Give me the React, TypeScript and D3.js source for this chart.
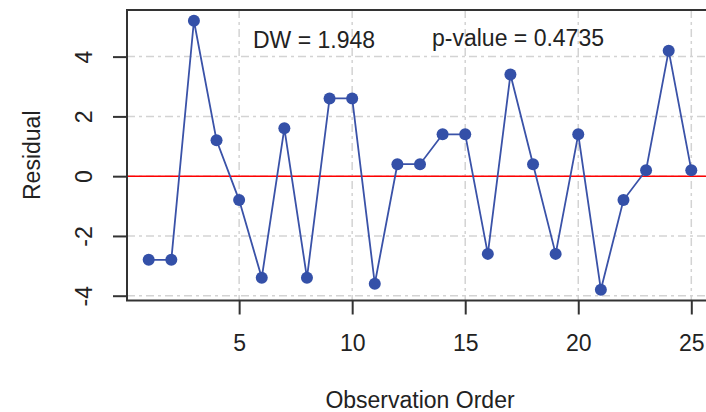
import React, { useEffect, useRef } from 'react';
import * as d3 from 'd3';

// residuals by observation order
const order = d3.range(1, 26);
const residuals = [-2.8, -2.8, 5.2, 1.2, -0.8, -3.4, 1.6, -3.4, 2.6, 2.6, -3.6, 0.4, 0.4, 1.4, 1.4, -2.6, 3.4, 0.4, -2.6, 1.4, -3.8, -0.8, 0.2, 4.2, 0.2];
const xTicks = [5, 10, 15, 20, 25];
const yTicks = [-4, -2, 0, 2, 4];
const dwLabel = 'DW = 1.948';
const pLabel = 'p-value = 0.4735';

const App = () => {
  const ref = useRef<SVGSVGElement>(null);

  useEffect(() => {
    const width = 706;
    const height = 412;
    const left = 127, top = 10, right = 713, bottom = 300.5;
    const font = 'Liberation Sans, Arial, sans-serif';
    const fs = 23;

    const svg = d3.select(ref.current);
    svg.selectAll('*').remove();

    const x = d3.scaleLinear().domain([0.04, 25.96]).range([left, right]);
    const y = d3.scaleLinear().domain([-4.16, 5.56]).range([bottom, top]);

    const grid = svg.append('g');
    grid.selectAll('line.v')
      .data(xTicks)
      .join('line')
      .attr('x1', d => x(d)).attr('x2', d => x(d))
      .attr('y1', top).attr('y2', bottom)
      .attr('stroke', '#d3d3d3').attr('stroke-width', 1.5)
      .attr('stroke-dasharray', '8,4,3,4');
    grid.selectAll('line.h')
      .data(yTicks)
      .join('line')
      .attr('x1', left).attr('x2', right)
      .attr('y1', d => y(d)).attr('y2', d => y(d))
      .attr('stroke', '#d3d3d3').attr('stroke-width', 1.5)
      .attr('stroke-dasharray', '8,4,3,4');

    // annotations
    svg.append('text')
      .attr('x', 253).attr('y', 48)
      .attr('font-family', font).attr('font-size', fs).attr('fill', '#222')
      .text(dwLabel);
    svg.append('text')
      .attr('x', 432).attr('y', 46)
      .attr('font-family', font).attr('font-size', fs).attr('fill', '#222')
      .text(pLabel);

    // zero line
    svg.append('line')
      .attr('x1', left).attr('x2', right)
      .attr('y1', y(0)).attr('y2', y(0))
      .attr('stroke', '#ff0000').attr('stroke-width', 1.5);

    const line = d3.line<number>()
      .x((d, i) => x(order[i]))
      .y(d => y(d));

    svg.append('path')
      .datum(residuals)
      .attr('d', line)
      .attr('fill', 'none')
      .attr('stroke', '#3a52a8')
      .attr('stroke-width', 1.8);

    svg.append('g')
      .selectAll('circle')
      .data(residuals)
      .join('circle')
      .attr('cx', (d, i) => x(order[i]))
      .attr('cy', d => y(d))
      .attr('r', 6)
      .attr('fill', '#3450a8');

    // box
    svg.append('rect')
      .attr('x', left).attr('y', top)
      .attr('width', right - left).attr('height', bottom - top)
      .attr('fill', 'none').attr('stroke', '#333').attr('stroke-width', 2);

    // axes
    const xAxis = svg.append('g')
      .attr('transform', `translate(0,${bottom})`)
      .call(d3.axisBottom(x).tickValues(xTicks).tickSize(14).tickPadding(20).tickFormat(d => String(d)));
    xAxis.select('.domain').remove();
    xAxis.selectAll('line').attr('stroke', '#333').attr('stroke-width', 2);
    xAxis.selectAll('text').attr('font-family', font).attr('font-size', fs).attr('fill', '#222');

    const yAxis = svg.append('g')
      .attr('transform', `translate(${left},0)`)
      .call(d3.axisLeft(y).tickValues(yTicks).tickSize(14).tickFormat(d => String(d)));
    yAxis.select('.domain').remove();
    yAxis.selectAll('line').attr('stroke', '#333').attr('stroke-width', 2);
    yAxis.selectAll('text')
      .attr('font-family', font).attr('font-size', fs).attr('fill', '#222')
      .attr('x', null).attr('dy', null)
      .attr('text-anchor', 'middle')
      .attr('transform', 'translate(-35,0) rotate(-90)');

    svg.append('text')
      .attr('x', (left + right) / 2).attr('y', 408)
      .attr('text-anchor', 'middle')
      .attr('font-family', font).attr('font-size', fs).attr('fill', '#222')
      .text('Observation Order');

    svg.append('text')
      .attr('transform', `translate(40,${(top + bottom) / 2}) rotate(-90)`)
      .attr('text-anchor', 'middle')
      .attr('font-family', font).attr('font-size', fs).attr('fill', '#222')
      .text('Residual');

    svg.attr('width', width).attr('height', height);
  }, []);

  return (
    <svg ref={ref} width={706} height={412} style={{ position: 'absolute', left: 0, top: 0, background: '#fff' }}></svg>
  );
};

export default App;
